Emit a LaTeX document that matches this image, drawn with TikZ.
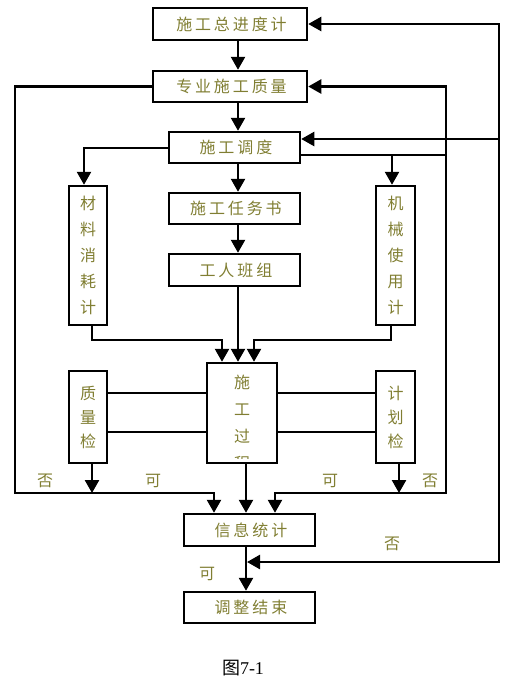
\documentclass[tikz,border=0pt]{standalone}
\usepackage{fontspec}
\setmainfont{Liberation Serif}
\newfontfamily\cjk[LetterSpace=18]{Noto Sans CJK SC}
\newfontfamily\cjkv{Noto Sans CJK SC}
\usetikzlibrary{arrows.meta,calc}
\definecolor{txt}{RGB}{128,126,50}
\begin{document}
\begin{tikzpicture}[x=1pt,y=-1pt,
  line width=2.5pt,
  box/.style={draw, line width=2.5pt, inner sep=0pt, text=txt, font=\cjk\fontsize{16}{18}\selectfont},
  vbox/.style={draw, line width=2.5pt, inner sep=0pt, text=txt, align=center},
  arr/.style={-{Triangle[width=14pt,length=13pt]}},
  barr/.style={{Triangle[width=14pt,length=13pt]}-{Triangle[width=14pt,length=13pt]}},
  lab/.style={text=txt, font=\cjkv\fontsize{16}{18}\selectfont, inner sep=0pt}]
\useasboundingbox (0,0) rectangle (507,680);

\node[box, minimum width=154pt, minimum height=32pt] (b1) at (230,24) {施工总进度计\kern-2.9pt};
\node[box, minimum width=154pt, minimum height=31pt] (b2) at (230,86.5) {专业施工质量\kern-2.9pt};
\node[box, minimum width=131pt, minimum height=31pt] (b3) at (234.5,147.5) {施工调度\kern-2.9pt};
\node[box, minimum width=131pt, minimum height=31pt] (b4) at (234.5,208.5) {施工任务书\kern-2.9pt};
\node[box, minimum width=131pt, minimum height=32pt] (b5) at (234.5,270) {工人班组\kern-2.9pt};
\node[vbox, minimum width=38pt, minimum height=139pt, font=\cjkv\fontsize{16}{26}\selectfont] (mat) at (88,255.5) {材\\料\\消\\耗\\计};
\node[vbox, minimum width=39pt, minimum height=139pt, font=\cjkv\fontsize{16}{26}\selectfont] (mach) at (395.5,255.5) {机\\械\\使\\用\\计};
\node[vbox, minimum width=38pt, minimum height=92pt, font=\cjkv\fontsize{16}{24}\selectfont] (qc) at (88,417) {质\\量\\检};
\node[draw, line width=2.5pt, inner sep=0pt, minimum width=70pt, minimum height=100pt] (proc) at (242,413) {};
\node[vbox, minimum width=39pt, minimum height=92pt, font=\cjkv\fontsize{16}{24}\selectfont] (pc) at (395.5,417) {计\\划\\检};
\node[box, minimum width=131pt, minimum height=32pt] (b6) at (249.5,530) {信息统计\kern-2.9pt};
\node[box, minimum width=131pt, minimum height=31pt] (b7) at (249.5,607.5) {调整结束\kern-2.9pt};

\begin{scope}
  \clip ($(proc.north west)+(1.3,1.3)$) rectangle ($(proc.east)+(-1.3,45)$);
  \node[text=txt, inner sep=0pt, align=center, font=\cjkv\fontsize{16}{27}\selectfont] (proct) at (242,422.5) {施\\工\\过\\程};
\end{scope}

% x positions
\coordinate (xc) at (238,0);
\coordinate (xm) at (246,0);
\coordinate (xl) at (214,0);
\coordinate (xr) at (275,0);
\coordinate (xa) at (222,0);
\coordinate (xb) at (254,0);
\coordinate (xml) at (84,0);
\coordinate (xmr) at (392,0);
\coordinate (xq) at (92,0);
\coordinate (xp) at (399,0);
\coordinate (xd) at (391,0);

% junction points
\coordinate (L1) at (15,86.5);
\coordinate (L2) at (15,493);
\coordinate (L3) at (214,493);
\coordinate (R1) at (446,86.5);
\coordinate (R2) at (446,493);
\coordinate (R3) at (275,493);
\coordinate (R4) at (446,155);
\coordinate (M1) at (392,155);
\coordinate (T1) at (84,148);
\coordinate (O1) at (499,24);
\coordinate (O2) at (499,562);
\coordinate (O3) at (247,562);
\coordinate (O4) at (499,139);
\coordinate (J1) at (92,340);
\coordinate (J2) at (222,340);
\coordinate (J3) at (391,340);
\coordinate (J4) at (254,340);
\coordinate (Q1) at (92,493);
\coordinate (P1) at (399,493);

% main chain
\draw[arr] (b1.south -| xc) -- (b2.north -| xc);
\draw[arr] (b2.south -| xc) -- (b3.north -| xc);
\draw[arr] (b3.south -| xc) -- (b4.north -| xc);
\draw[arr] (b4.south -| xc) -- (b5.north -| xc);
\draw[arr] (b5.south -| xc) -- (proc.north -| xc);
\draw[arr] (proc.south -| xm) -- (b6.north -| xm);
\draw[arr] (b6.south -| xm) -- (b7.north -| xm);

% dispatch to side plans
\draw[arr] (b3.west |- T1) -- (T1) -- (mat.north -| xml);
\draw (b3.east |- R4) -- (R4);
\draw[arr] (M1) -- (mach.north -| xmr);

% side plans to process
\draw[arr] (mat.south -| xq) -- (J1) -- (J2) -- (proc.north -| xa);
\draw[arr] (mach.south -| xd) -- (J3) -- (J4) -- (proc.north -| xb);

% checks linked to process
\draw (qc.east |- 0,393) -- (proc.west |- 0,393);
\draw (qc.east |- 0,432) -- (proc.west |- 0,432);
\draw (proc.east |- 0,393) -- (pc.west |- 0,393);
\draw (proc.east |- 0,432) -- (pc.west |- 0,432);

% check results
\draw[arr] (qc.south -| xq) -- (Q1);
\draw[arr] (pc.south -| xp) -- (P1);

% loops
\draw[arr] (b2.west) -- (L1) -- (L2) -- (L3) -- (b6.north -| xl);
\draw[barr] (b2.east) -- (R1) -- (R2) -- (R3) -- (b6.north -| xr);
\draw[barr] (O3) -- (O2) -- (O1) -- (b1.east |- O1);
\draw[arr] (O4) -- (b3.east |- O4);

% labels
\node[lab] (n1) at (45,481) {否};
\node[lab] (k1) at (153,481) {可};
\node[lab] (k2) at (330,481) {可};
\node[lab] (n2) at (430,481) {否};
\node[lab] (n3) at (392,544) {否};
\node[lab] (k3) at (207,574) {可};

\node[inner sep=0pt, font=\fontsize{18}{20}\selectfont] (cap) at (243,668) {{\cjkv 图}7-1};
\end{tikzpicture}
\end{document}
